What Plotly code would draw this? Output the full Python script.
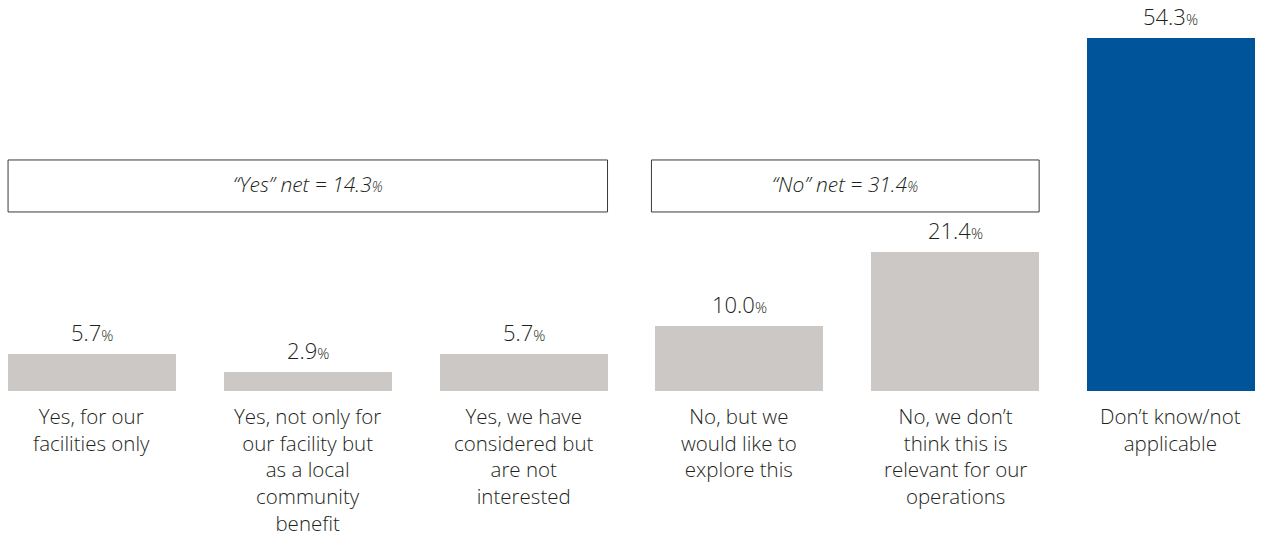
import plotly.graph_objects as go

categories = [
    "Yes, for our<br>facilities only",
    "Yes, not only for<br>our facility but<br>as a local<br>community<br>benefit",
    "Yes, we have<br>considered but<br>are not<br>interested",
    "No, but we<br>would like to<br>explore this",
    "No, we don\u2019t<br>think this is<br>relevant for our<br>operations",
    "Don\u2019t know/not<br>applicable",
]
values = [5.7, 2.9, 5.7, 10.0, 21.4, 54.3]
bar_colors = ["#CBC8C5"] * 5 + ["#00559A"]
net_labels = ["\u201cYes\u201d net = 14.3", "\u201cNo\u201d net = 31.4"]
net_groups = [(0, 2), (3, 4)]

FONT = "'Open Sans', Lato, sans-serif"
TXT = "#231F20"
W = 0.778
xs = list(range(len(values)))

fig = go.Figure()
fig.add_trace(go.Bar(x=xs, y=values, width=W, marker=dict(color=bar_colors, line=dict(width=0)),
                     hoverinfo="skip"))

for x, v in zip(xs, values):
    fig.add_annotation(x=x, y=v, xref="x", yref="y", yanchor="bottom", yshift=5,
                       text=f"{v:.1f}<span style='font-size:15px'>%</span>",
                       showarrow=False, font=dict(family=FONT, size=22, color=TXT, weight=300))

for x, c in zip(xs, categories):
    fig.add_annotation(x=x, y=0, xref="x", yref="y", yanchor="top", yshift=-9,
                       text=c, showarrow=False, align="center",
                       font=dict(family=FONT, size=20.5, color=TXT, weight=300))

for (a, b), lab in zip(net_groups, net_labels):
    x0 = a - W / 2 - (0.0185 if a == 3 else 0)
    x1 = b + W / 2
    fig.add_shape(type="rect", xref="x", yref="y", x0=x0, x1=x1, y0=27.54, y1=35.54,
                  line=dict(color="#3A3A3A", width=1), fillcolor="rgba(0,0,0,0)")
    fig.add_annotation(x=(x0 + x1) / 2, y=31.85, xref="x", yref="y", showarrow=False,
                       yanchor="middle",
                       text=f"<i>{lab}<span style='font-size:14px'>%</span></i>",
                       font=dict(family=FONT, size=21, color=TXT, weight=300))

fig.update_layout(
    width=1265, height=540,
    margin=dict(l=0, r=0, t=0, b=0),
    paper_bgcolor="white", plot_bgcolor="white",
    showlegend=False,
    xaxis=dict(range=[-0.4263, 5.4357], visible=False, fixedrange=True),
    yaxis=dict(range=[-22.92, 60.15], visible=False, fixedrange=True),
    bargap=0,
)
fig.write_html("out.html", config={"displayModeBar": False},
               post_script="document.body.style.margin='0';")
